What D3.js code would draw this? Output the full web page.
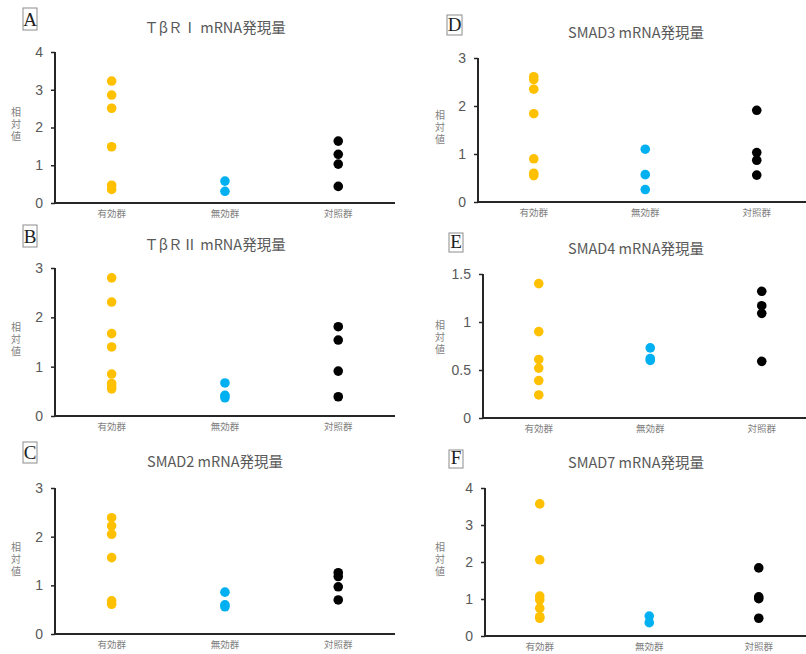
<!DOCTYPE html>
<html><head><meta charset="utf-8">
<script src="https://cdn.jsdelivr.net/npm/d3@7"></script>
<style>
html,body{margin:0;padding:0;background:#fff;}
svg{display:block;}
</style>
</head><body>
<svg id="chart" width="806" height="654"></svg>
<script>
// ---- data ----
const categories = ['有効群', '無効群', '対照群'];
const panelLetters = ['A', 'B', 'C', 'D', 'E', 'F'];
const panelTitles = ['ＴβＲⅠ mRNA発現量', 'ＴβＲⅡ mRNA発現量', 'SMAD2 mRNA発現量',
                     'SMAD3 mRNA発現量', 'SMAD4 mRNA発現量', 'SMAD7 mRNA発現量'];
const yLabel = '相対値';

const tbr1Effective = [3.23, 2.86, 2.51, 1.49, 0.47, 0.36];
const tbr1Ineffective = [0.58, 0.31];
const tbr1Control = [1.64, 1.29, 1.03, 0.44];

const tbr2Effective = [2.80, 2.31, 1.67, 1.40, 0.85, 0.66, 0.61, 0.55];
const tbr2Ineffective = [0.67, 0.42, 0.37];
const tbr2Control = [1.81, 1.54, 0.91, 0.39];

const smad2Effective = [2.39, 2.22, 2.05, 1.57, 0.68, 0.61];
const smad2Ineffective = [0.86, 0.60, 0.56];
const smad2Control = [1.26, 1.18, 0.97, 0.70];

const smad3Effective = [2.61, 2.55, 2.35, 1.84, 0.90, 0.60, 0.55];
const smad3Ineffective = [1.10, 0.57, 0.26];
const smad3Control = [1.91, 1.03, 0.87, 0.56];

const smad4Effective = [1.40, 0.90, 0.61, 0.52, 0.39, 0.24];
const smad4Ineffective = [0.73, 0.62, 0.60];
const smad4Control = [1.32, 1.17, 1.09, 0.59];

const smad7Effective = [3.57, 2.06, 1.08, 0.98, 0.75, 0.52, 0.48];
const smad7Ineffective = [0.54, 0.36];
const smad7Control = [1.84, 1.06, 1.01, 0.48];

const ticks4 = [0, 1, 2, 3, 4];
const ticks3 = [0, 1, 2, 3];
const ticks15 = [0, 0.5, 1, 1.5];

const groupColors = ['#FFC000', '#00B0F0', '#000000'];

// ---- layout (positions/styles) ----
const layouts = [
  {ax: 55,  top: 52,  bot: 203, right: 395, step: 113.3, titleX: 215, titleY: 33,  ylabY: 125, box: [23, 8, 14, 22],  series: [tbr1Effective, tbr1Ineffective, tbr1Control], ticks: ticks4},
  {ax: 55,  top: 268, bot: 416, right: 395, step: 113.3, titleX: 215, titleY: 250, ylabY: 340, box: [23, 225, 14, 22], series: [tbr2Effective, tbr2Ineffective, tbr2Control], ticks: ticks3},
  {ax: 55,  top: 488, bot: 634, right: 395, step: 113.3, titleX: 215, titleY: 467, ylabY: 560, box: [23, 442, 14, 21], series: [smad2Effective, smad2Ineffective, smad2Control], ticks: ticks3},
  {ax: 478, top: 58,  bot: 202, right: 810, step: 111.5, titleX: 636, titleY: 38,  ylabY: 128, box: [447, 15, 15, 20], series: [smad3Effective, smad3Ineffective, smad3Control], ticks: ticks3},
  {ax: 483, top: 274, bot: 418, right: 810, step: 111.5, titleX: 636, titleY: 254, ylabY: 338, box: [449, 233, 14, 19], series: [smad4Effective, smad4Ineffective, smad4Control], ticks: ticks15},
  {ax: 485, top: 488, bot: 636, right: 810, step: 109.5, titleX: 636, titleY: 468, ylabY: 560, box: [449, 450, 14, 18], series: [smad7Effective, smad7Ineffective, smad7Control], ticks: ticks4}
];

const svg = d3.select('#chart');

layouts.forEach((L, i) => {
  const g = svg.append('g');
  const ticks = L.ticks;
  const y = d3.scaleLinear().domain([ticks[0], ticks[ticks.length - 1]]).range([L.bot, L.top]);
  const x = d3.scalePoint().domain(categories)
    .range([L.ax, L.ax + L.step * 3]).padding(0.5);

  // y axis
  const yAxis = d3.axisLeft(y).tickValues(ticks).tickSize(4).tickPadding(8)
    .tickFormat(d => String(d));
  const ya = g.append('g').attr('transform', `translate(${L.ax},0)`).call(yAxis);
  ya.select('.domain').attr('stroke', '#262626').attr('stroke-width', 2)
    .attr('d', `M0,${L.top}V${L.bot}`);
  ya.selectAll('.tick line').attr('stroke', '#262626').attr('stroke-width', 1.5);
  ya.selectAll('.tick text').attr('fill', '#595959')
    .style('font-family', '"Liberation Sans", Arial, sans-serif').style('font-size', '14px');

  // x axis line
  g.append('line').attr('x1', L.ax - 1).attr('x2', Math.min(L.right, 806))
    .attr('y1', L.bot).attr('y2', L.bot)
    .attr('stroke', '#262626').attr('stroke-width', 2);

  // category labels
  g.selectAll('text.cat').data(categories).join('text')
    .attr('class', 'cat')
    .attr('x', d => x(d)).attr('y', L.bot + 14)
    .attr('text-anchor', 'middle').attr('fill', '#7f7f7f')
    .style('font-family', '"Noto Sans CJK JP", sans-serif').style('font-size', '9.5px')
    .text(d => d);

  // points
  L.series.forEach((vals, k) => {
    g.selectAll(null).data(vals).join('circle')
      .attr('cx', x(categories[k])).attr('cy', d => y(d)).attr('r', 4.8)
      .attr('fill', groupColors[k]);
  });

  // title
  g.append('text').attr('x', L.titleX).attr('y', L.titleY)
    .attr('text-anchor', 'middle').attr('fill', '#595959')
    .style('font-family', '"Noto Sans CJK JP", sans-serif').style('font-size', '14.5px')
    .text(panelTitles[i]);

  // y label (vertical writing)
  const lx = i < 3 ? 16 : 440;
  g.append('text')
    .attr('x', lx).attr('y', L.ylabY)
    .attr('text-anchor', 'middle').attr('fill', '#7f7f7f')
    .style('writing-mode', 'vertical-rl')
    .style('letter-spacing', '2px')
    .style('font-family', '"Noto Sans CJK JP", sans-serif').style('font-size', '10px')
    .text(yLabel);

  // panel letter box
  const [bx, by, bw, bh] = L.box;
  g.append('rect').attr('x', bx).attr('y', by).attr('width', bw).attr('height', bh)
    .attr('fill', 'none').attr('stroke', '#8c8c8c').attr('stroke-width', 1);
  g.append('text').attr('x', bx + bw / 2).attr('y', by + bh - 4)
    .attr('text-anchor', 'middle').attr('fill', '#222')
    .style('font-family', '"Liberation Serif", "DejaVu Serif", serif').style('font-size', '19px')
    .text(panelLetters[i]);
});
</script>
</body></html>
